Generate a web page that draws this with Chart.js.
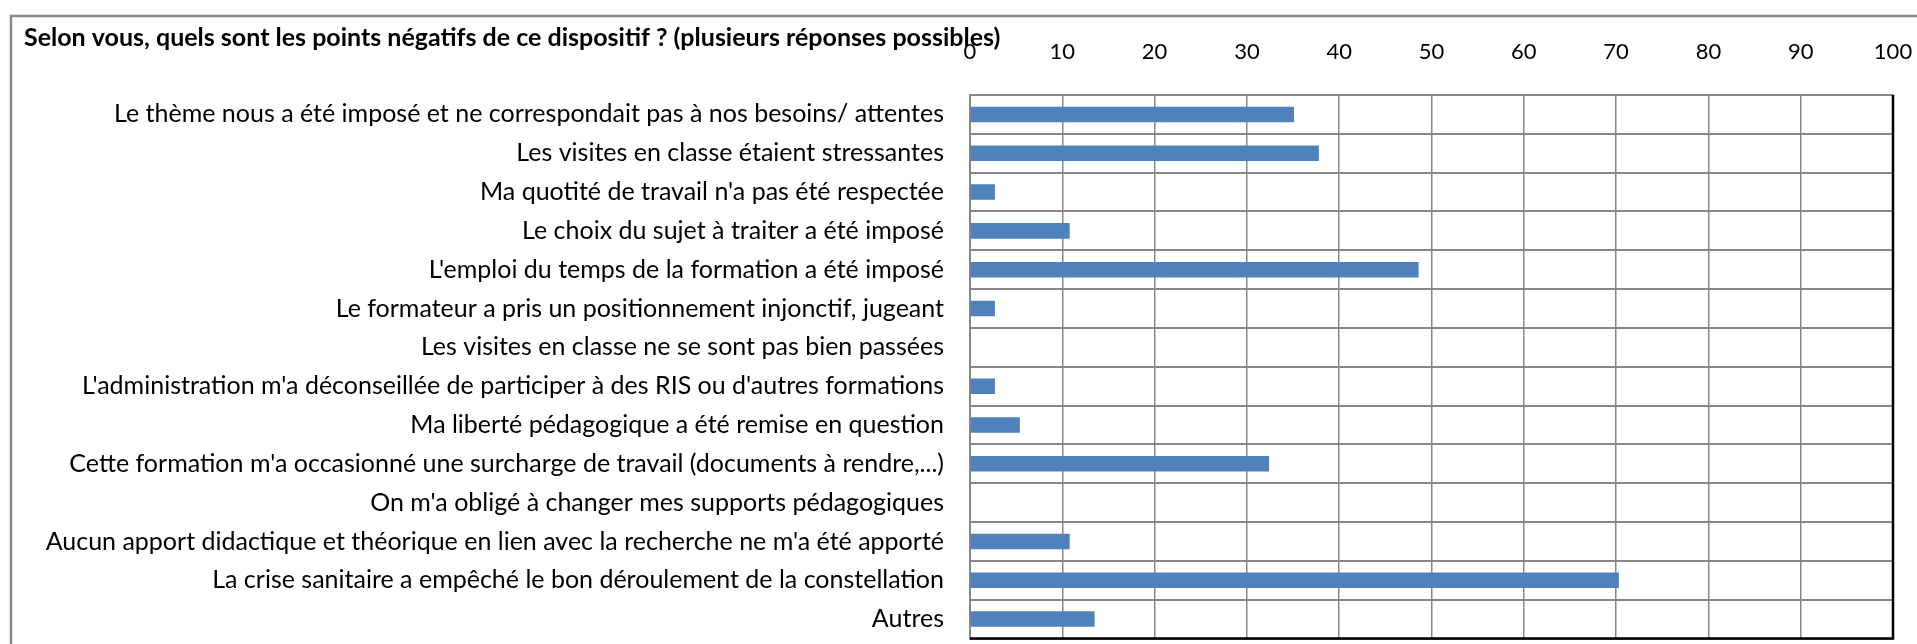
<!DOCTYPE html>
<html>
<head>
<meta charset="utf-8">
<script src="https://cdn.jsdelivr.net/npm/chart.js@4.4.0/dist/chart.umd.min.js"></script>
<style>
  html, body { margin: 0; padding: 0; background: #fff; }
  canvas { display: block; }
</style>
</head>
<body>
<canvas id="chart" width="1917" height="644"></canvas>
<script>
const chartTitle = 'Selon vous, quels sont les points négatifs de ce dispositif ? (plusieurs réponses possibles)';

const categories = [
  'Le thème nous a été imposé et ne correspondait pas à nos besoins/ attentes',
  'Les visites en classe étaient stressantes',
  "Ma quotité de travail n'a pas été respectée",
  'Le choix du sujet à traiter a été imposé',
  "L'emploi du temps de la formation a été imposé",
  'Le formateur a pris un positionnement injonctif, jugeant',
  'Les visites en classe ne se sont pas bien passées',
  "L'administration m'a déconseillée de participer à des RIS ou d'autres formations",
  'Ma liberté pédagogique a été remise en question',
  "Cette formation m'a occasionné une surcharge de travail (documents à rendre,...)",
  "On m'a obligé à changer mes supports pédagogiques",
  "Aucun apport didactique et théorique en lien avec la recherche ne m'a été apporté",
  'La crise sanitaire a empêché le bon déroulement de la constellation',
  'Autres'
];

// percentages of respondents
const values = [35.1, 37.8, 2.7, 10.8, 48.6, 2.7, 0, 2.7, 5.4, 32.4, 0, 10.8, 70.3, 13.5];

const axisMin = 0;
const axisMax = 100;
const axisStep = 10;

const gridGray = '#878787';

// outer frame + black right/bottom edges of the plot area
const framePlugin = {
  id: 'frame',
  beforeDraw(chart) {
    const ctx = chart.ctx;
    ctx.save();
    ctx.strokeStyle = '#8a8a8a';
    ctx.lineWidth = 2.5;
    ctx.beginPath();
    ctx.moveTo(11, chart.height + 5);
    ctx.lineTo(11, 16);
    ctx.lineTo(chart.width + 5, 16);
    ctx.stroke();
    ctx.restore();
  },
  afterDraw(chart) {
    const { ctx, chartArea } = chart;
    ctx.save();
    ctx.strokeStyle = '#000';
    ctx.lineWidth = 2.5;
    ctx.beginPath();
    ctx.moveTo(chartArea.left, chartArea.bottom);
    ctx.lineTo(chartArea.right, chartArea.bottom);
    ctx.lineTo(chartArea.right, chartArea.top);
    ctx.stroke();
    ctx.restore();
  }
};

new Chart(document.getElementById('chart'), {
  type: 'bar',
  data: {
    labels: categories,
    datasets: [{
      data: values,
      backgroundColor: '#4f81bd',
      barPercentage: 0.4,
      categoryPercentage: 1.0
    }]
  },
  plugins: [framePlugin],
  options: {
    indexAxis: 'y',
    responsive: false,
    animation: false,
    layout: { padding: { left: 24, right: 24, top: 0, bottom: 5.5 } },
    plugins: {
      legend: { display: false },
      tooltip: { enabled: false },
      title: {
        display: true,
        text: chartTitle,
        align: 'start',
        color: '#000',
        font: { family: 'Lato', size: 25, weight: 'bold', lineHeight: 1.2 },
        padding: { top: 23, bottom: -21 }
      }
    },
    scales: {
      x: {
        position: 'top',
        min: axisMin,
        max: axisMax,
        afterFit: (scale) => {
          scale.height = 63;
          scale.paddingLeft = 0;
          scale.paddingRight = 0;
        },
        ticks: {
          stepSize: axisStep,
          color: '#000',
          padding: 30,
          font: { family: 'Lato', size: 22 }
        },
        grid: { color: gridGray, lineWidth: 1.5, drawTicks: false },
        border: { color: gridGray, width: 2 }
      },
      y: {
        afterFit: (scale) => {
          scale.width = 946;
          scale.paddingTop = 0;
          scale.paddingBottom = 0;
        },
        ticks: {
          color: '#000',
          padding: 26,
          autoSkip: false,
          font: { family: 'Lato', size: 25 }
        },
        grid: { color: gridGray, lineWidth: 2, drawTicks: false },
        border: { color: gridGray, width: 2 }
      }
    }
  }
});
</script>
</body>
</html>
